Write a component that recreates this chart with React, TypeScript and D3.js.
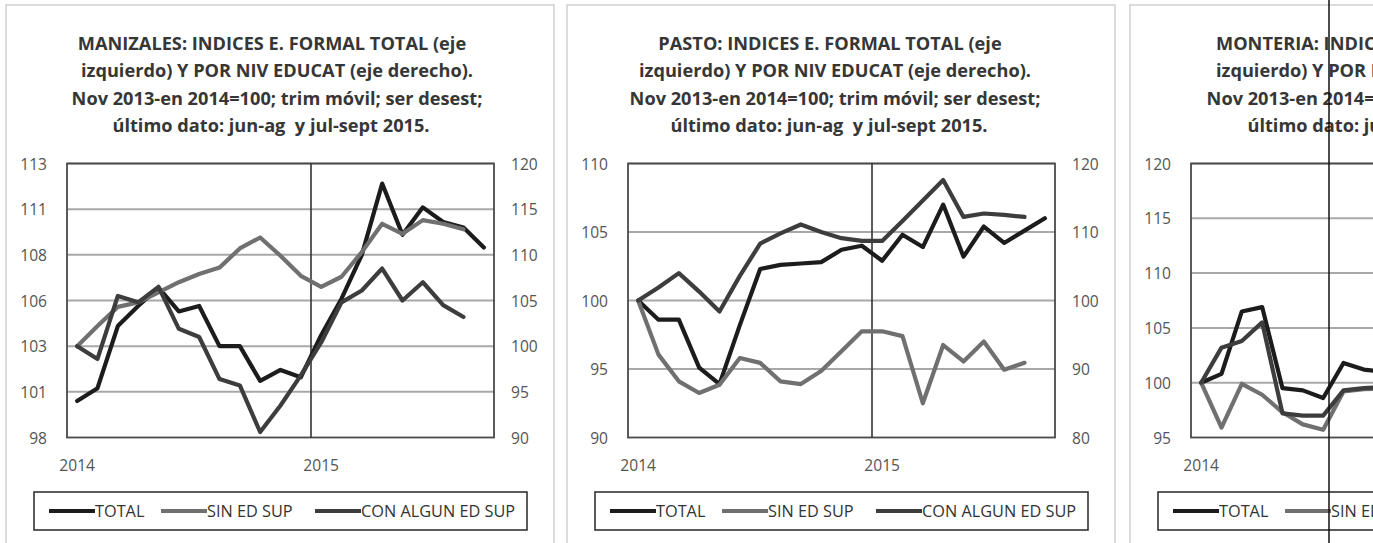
import React, { useEffect } from "react";
import * as d3 from "d3";

// ---------- DATA ----------
const PERIODS = [
  "ene14", "feb14", "mar14", "abr14", "may14", "jun14", "jul14", "ago14", "sep14", "oct14", "nov14", "dic14",
  "ene15", "feb15", "mar15", "abr15", "may15", "jun15", "jul15", "ago15", "sep15",
];
const YEAR_TICKS = [
  { period: "ene14", label: "2014" },
  { period: "ene15", label: "2015" },
];
const SERIES_NAMES = ["TOTAL", "SIN ED SUP", "CON ALGUN ED SUP"];

const TITLE_TAIL = [
  "izquierdo) Y POR NIV EDUCAT (eje derecho).",
  "Nov 2013-en 2014=100; trim móvil; ser desest;",
  "último dato: jun-ag  y jul-sept 2015.",
];

// Manizales
const MANIZALES_TOTAL = [100.0, 100.7, 104.1, 105.2, 106.2, 104.9, 105.2, 103.0, 103.0, 101.1, 101.7, 101.3, 103.6, 105.6, 108.0, 111.9, 109.1, 110.6, 109.8, 109.5, 108.4];
const MANIZALES_SIN = [100.0, 102.2, 104.3, 104.8, 105.9, 107.0, 107.9, 108.6, 110.7, 111.9, 109.9, 107.7, 106.5, 107.6, 110.3, 113.4, 112.3, 113.8, 113.4, 112.8];
const MANIZALES_CON = [100.0, 98.6, 105.5, 104.8, 106.5, 101.9, 101.0, 96.4, 95.7, 90.6, 93.5, 96.8, 100.4, 104.8, 106.1, 108.5, 105.0, 107.0, 104.5, 103.2];
const MANIZALES_LEFT_TICKS = [98, 100.5, 103, 105.5, 108, 110.5, 113];
const MANIZALES_RIGHT_TICKS = [90, 95, 100, 105, 110, 115, 120];

// Pasto
const PASTO_TOTAL = [100.0, 98.6, 98.6, 95.1, 93.9, 98.2, 102.3, 102.6, 102.7, 102.8, 103.7, 104.0, 102.9, 104.8, 103.9, 107.0, 103.2, 105.4, 104.2, 105.1, 106.0];
const PASTO_SIN = [100.0, 92.1, 88.2, 86.5, 87.7, 91.6, 90.9, 88.2, 87.8, 89.7, 92.6, 95.5, 95.5, 94.8, 85.0, 93.5, 91.1, 94.0, 89.9, 90.9];
const PASTO_CON = [100.0, 101.9, 104.0, 101.3, 98.4, 103.6, 108.3, 109.8, 111.1, 110.0, 109.1, 108.7, 108.7, 111.6, 114.6, 117.6, 112.2, 112.7, 112.5, 112.2];
const PASTO_LEFT_TICKS = [90, 95, 100, 105, 110];
const PASTO_RIGHT_TICKS = [80, 90, 100, 110, 120];

// Monteria (only the start is visible)
const MONTERIA_TOTAL = [100.0, 100.8, 106.5, 106.9, 99.5, 99.3, 98.6, 101.8, 101.2, 101.0];
const MONTERIA_SIN = [100.0, 95.9, 99.9, 98.9, 97.3, 96.2, 95.7, 99.2, 99.4, 99.5];
const MONTERIA_CON = [100.0, 103.2, 103.8, 105.5, 97.2, 97.0, 97.0, 99.3, 99.5, 99.6];
const MONTERIA_LEFT_TICKS = [95, 100, 105, 110, 115, 120];
const MONTERIA_RIGHT_TICKS: number[] = [];

// ---------- STYLE ----------
const COLORS = ["#1c1c1c", "#707070", "#3d3d3d"];
const FONT = "'Open Sans', 'DejaVu Sans', sans-serif";

type PanelDef = {
  left: number;
  titleShift: number;
  title: string;
  leftTicks: number[];
  rightTicks: number[];
  series: number[][];
};

const PANELS: PanelDef[] = [
  { left: 6, titleShift: 0, title: "MANIZALES: INDICES E. FORMAL TOTAL (eje", leftTicks: MANIZALES_LEFT_TICKS, rightTicks: MANIZALES_RIGHT_TICKS, series: [MANIZALES_TOTAL, MANIZALES_SIN, MANIZALES_CON] },
  { left: 567, titleShift: -3, title: "PASTO: INDICES E. FORMAL TOTAL (eje", leftTicks: PASTO_LEFT_TICKS, rightTicks: PASTO_RIGHT_TICKS, series: [PASTO_TOTAL, PASTO_SIN, PASTO_CON] },
  { left: 1130, titleShift: 11, title: "MONTERIA: INDICES E. FORMAL TOTAL (eje", leftTicks: MONTERIA_LEFT_TICKS, rightTicks: MONTERIA_RIGHT_TICKS, series: [MONTERIA_TOTAL, MONTERIA_SIN, MONTERIA_CON] },
];

const PANEL_W = 548;
const PLOT_X0 = 61;
const PLOT_X1 = 488;
const PLOT_TOP = 163.5;
const PLOT_BOTTOM = 437.5;

function Panel({ p }: { p: PanelDef }) {
  const x0 = p.left + PLOT_X0;
  const x1 = p.left + PLOT_X1;
  const x = d3.scaleBand<string>().domain(PERIODS).range([x0, x1]).paddingInner(0).paddingOuter(0);
  const cx = (i: number) => (x(PERIODS[i]) as number) + x.bandwidth() / 2;
  const yL = d3.scaleLinear().domain(d3.extent(p.leftTicks) as [number, number]).range([PLOT_BOTTOM, PLOT_TOP]);
  const yR = p.rightTicks.length
    ? d3.scaleLinear().domain(d3.extent(p.rightTicks) as [number, number]).range([PLOT_BOTTOM, PLOT_TOP])
    : yL;
  const fmt = d3.format(".0f");
  const scales = [yL, yR, yR];
  const lines = p.series.map((vals, si) =>
    d3.line<number>().x((_, i) => cx(i)).y((v) => scales[si](v)).curve(d3.curveLinear)(vals) as string
  );
  const center = p.left + 271 + p.titleShift;
  const titleLines = [p.title, ...TITLE_TAIL];
  const titleDx = [-5, 0, 0, -6];
  const legX = p.left + 28;
  const legY = 492;
  const sampleEnds = [61, 173, 327];
  const yearX = x("ene15") as number;

  return (
    <g>
      <rect x={p.left} y={5} width={PANEL_W} height={600} fill="#fff" stroke="#cfcfcf" strokeWidth={1.5} />
      {titleLines.map((t, i) => (
        <text key={i} x={center + titleDx[i]} y={50 + i * 27.3} textAnchor="middle" fontFamily={FONT} fontWeight={700} fontSize={18.2} fill="#363636" style={{ whiteSpace: "pre" }}>
          {t}
        </text>
      ))}
      {p.leftTicks.slice(1).map((t) => (
        <line key={"g" + t} x1={x0} x2={x1} y1={yL(t)} y2={yL(t)} stroke="#a8a8a8" strokeWidth={2} />
      ))}
      <rect x={x0} y={PLOT_TOP} width={x1 - x0} height={PLOT_BOTTOM - PLOT_TOP} fill="none" stroke="#4a4a4a" strokeWidth={1.8} />
      {p.leftTicks.map((t) => (
        <text key={"l" + t} x={x0 - 20} y={yL(t)} textAnchor="end" dominantBaseline="central" fontFamily={FONT} fontSize={15.6} fill="#555">
          {fmt(t)}
        </text>
      ))}
      {p.rightTicks.map((t) => (
        <text key={"r" + t} x={x1 + 17} y={yR(t)} textAnchor="start" dominantBaseline="central" fontFamily={FONT} fontSize={15.6} fill="#555">
          {fmt(t)}
        </text>
      ))}
      {YEAR_TICKS.map((yt) => (
        <text key={yt.label} x={(x(yt.period) as number) + x.bandwidth() / 2} y={465} textAnchor="middle" dominantBaseline="central" fontFamily={FONT} fontSize={15.6} fill="#555">
          {yt.label}
        </text>
      ))}
      <line x1={yearX} x2={yearX} y1={PLOT_TOP} y2={PLOT_BOTTOM} stroke="#333" strokeWidth={1.6} />
      {lines.map((d, i) => (
        <path key={i} d={d} fill="none" stroke={COLORS[i]} strokeWidth={4.2} strokeLinejoin="round" strokeLinecap="round" />
      ))}
      <rect x={legX} y={legY} width={493} height={38} fill="none" stroke="#333" strokeWidth={1.6} />
      {SERIES_NAMES.map((n, i) => (
        <g key={n}>
          <line x1={legX + sampleEnds[i] - 46} x2={legX + sampleEnds[i]} y1={legY + 19} y2={legY + 19} stroke={COLORS[i]} strokeWidth={4.2} />
          <text x={legX + sampleEnds[i]} y={legY + 19} dominantBaseline="central" fontFamily={FONT} fontSize={16.3} fill="#333">
            {n}
          </text>
        </g>
      ))}
    </g>
  );
}

export default function App() {
  useEffect(() => {
    document.body.style.margin = "0";
  }, []);
  return (
    <svg width={1373} height={543} viewBox="0 0 1373 543" style={{ position: "absolute", left: 0, top: 0, background: "#fff" }}>
      <rect x={0} y={0} width={1373} height={543} fill="#fff" />
      {PANELS.map((p) => (
        <Panel key={p.title} p={p} />
      ))}
      <line x1={1329} x2={1329} y1={0} y2={543} stroke="#111" strokeWidth={1.5} />
    </svg>
  );
}
